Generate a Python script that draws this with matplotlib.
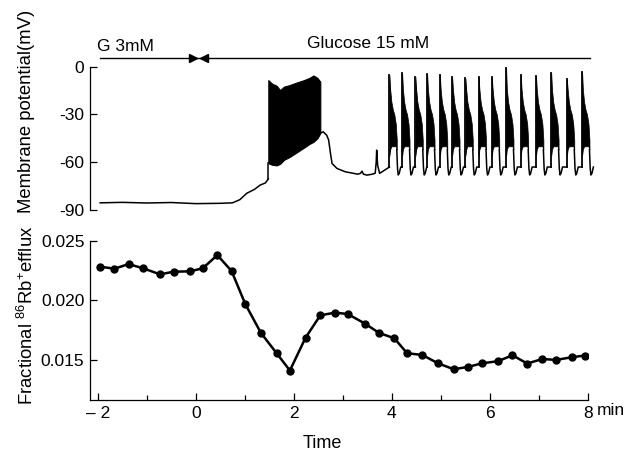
import numpy as np
import matplotlib.pyplot as plt
from matplotlib.transforms import blended_transform_factory

plt.rcParams['font.family'] = ['Liberation Sans', 'DejaVu Sans']
plt.rcParams['axes.unicode_minus'] = False

#%%
#------ Datos: flujo de 86Rb -------
t_rb = [-1.95, -1.66, -1.37, -1.07, -0.73, -0.45, -0.12, 0.14, 0.44, 0.73,
        1.01, 1.33, 1.65, 1.92, 2.24, 2.54, 2.84, 3.10, 3.45, 3.74,
        4.05, 4.31, 4.62, 4.94, 5.26, 5.56, 5.84, 6.16, 6.46, 6.76,
        7.07, 7.35, 7.67, 7.94]
rb_efflux = [0.02282, 0.02265, 0.02304, 0.02268, 0.02218, 0.0224, 0.02243, 0.02268, 0.02379, 0.02246,
             0.01969, 0.01726, 0.01556, 0.01411, 0.01687, 0.01874, 0.01897, 0.01885, 0.01805, 0.01726,
             0.01682, 0.01556, 0.01542, 0.01472, 0.01422, 0.01442, 0.01472, 0.01489, 0.01539, 0.0147,
             0.01508, 0.015, 0.01523, 0.01537]

#------ Datos: potencial de membrana -------
t_slow = [-1.95, -1.5, -1.0, -0.5, 0.0, 0.5, 0.75, 0.9, 1.04, 1.2, 1.31, 1.42, 1.48]
v_slow = [-85.5, -85.2, -85.6, -85.3, -86.0, -85.8, -85.5, -83.5, -79.5, -77.0, -74.4, -73.0, -70.5]

t_plat   = [1.48, 1.55, 1.65, 1.72, 1.80, 1.92, 2.05, 2.20, 2.32, 2.40, 2.48, 2.54]
plat_top = [-8.4, -10.5, -12.0, -14.7, -12.5, -11.5, -10.0, -8.5, -7.0, -5.5, -7.0, -9.4]
plat_bot = [-60.6, -61.5, -62.0, -61.0, -58.5, -56.6, -54.0, -51.0, -48.5, -47.2, -45.0, -41.7]

t_post = [2.54, 2.60, 2.67, 2.71, 2.75, 2.78, 2.88, 3.05, 3.22, 3.30, 3.36, 3.39, 3.42,
          3.49, 3.60, 3.66, 3.68, 3.69, 3.71, 3.75, 3.85, 3.95]
v_post = [-41.7, -40.9, -43.0, -46.0, -55.0, -60.8, -63.9, -66.0, -67.0, -67.5, -67.0, -65.6, -67.5,
          -68.1, -67.5, -66.9, -60.0, -52.4, -62.0, -67.0, -65.0, -63.0]

burst_t    = [3.95, 4.21, 4.48, 4.72, 4.98, 5.23, 5.50, 5.77, 6.04, 6.33, 6.63, 6.94, 7.25, 7.57, 7.88]
burst_peak = [-5.2, -4.2, -6.3, -4.6, -5.2, -6.7, -7.3, -6.7, -6.7, -1.0, -5.2, -5.9, -3.8, -7.9, -3.2]

# forma de cada rafaga (relativa al inicio)
act_dt  = [0.0, 0.015, 0.04, 0.07, 0.10, 0.13, 0.15]
act_top = [None, -14.0, -22.0, -27.0, -30.0, -36.0, -46.0]
act_bot = [-56.0, -52.0, -50.0, -50.0, -50.0, -50.0, -52.0]
rec_dt  = [0.15, 0.165, 0.18, 0.20, 0.23]
rec_v   = [-52.0, -64.0, -68.0, -67.0, -63.0]

#%%
#------ Figura -------
fig = plt.figure(figsize=(6.24, 4.51), dpi=100)
W, H = 624.0, 451.0
xlim = (-2.157, 8.0)

ax1 = fig.add_axes([90 / W, 1 - 210 / H, 498 / W, 143.3 / H])
ax2 = fig.add_axes([90 / W, 1 - 400 / H, 498 / W, 159.3 / H])

lw_tr = 1.1
ax1.plot(t_slow, v_slow, color='k', lw=lw_tr, clip_on=False)
ax1.plot([t_slow[-1], t_plat[0]], [v_slow[-1], plat_bot[0]], color='k', lw=lw_tr)
ax1.fill_between(t_plat, plat_bot, plat_top, color='k', lw=0.8, clip_on=False)
ax1.plot(t_post, v_post, color='k', lw=lw_tr, clip_on=False)

for i in range(len(burst_t)):
    t0 = burst_t[i]
    pk = burst_peak[i]
    top = [pk] + act_top[1:]
    ta = [t0 + d for d in act_dt]
    ax1.plot([t0, t0], [-63, pk], color='k', lw=1.3, clip_on=False)
    ax1.fill_between(ta, act_bot, top, color='k', lw=0.5, clip_on=False)
    tr = [t0 + d for d in rec_dt]
    vr = list(rec_v)
    if i + 1 < len(burst_t):
        tr.append(burst_t[i + 1])
        vr.append(-63)
    ax1.plot(tr, vr, color='k', lw=lw_tr, clip_on=False)

# barra de glucosa
ax1.plot([-1.95, 8.05], [5.5, 5.5], color='k', lw=1.0, clip_on=False)
ax1.plot([-0.06], [5.5], marker='>', color='k', ms=6, clip_on=False)
ax1.plot([0.16], [5.5], marker='<', color='k', ms=6, clip_on=False)
ax1.text(-2.01, 13, 'G 3mM', fontsize=12.5, ha='left', va='center')
ax1.text(2.26, 14.3, 'Glucose 15 mM', fontsize=12.5, ha='left', va='center')

ax1.set_xlim(xlim)
ax1.set_ylim(-90, 0)
ax1.set_yticks([0, -30, -60, -90])
ax1.set_yticklabels(['0', '-30', '-60', '-90'])
ax1.set_xticks([])
for s in ['top', 'right', 'bottom']:
    ax1.spines[s].set_visible(False)
ax1.spines['left'].set_linewidth(0.9)
ax1.tick_params(axis='y', direction='in', length=5, width=0.9, labelsize=12.5, pad=4)

# panel inferior
ax2.plot(t_rb, rb_efflux, color='k', lw=1.8, marker='o', ms=5)
ax2.set_xlim(xlim)
ax2.set_ylim(0.01164, 0.025)
ax2.set_yticks([0.015, 0.020, 0.025])
ax2.set_yticklabels(['0.015', '0.020', '0.025'])
ax2.set_xticks([-2, 0, 2, 4, 6, 8])
ax2.set_xticklabels(['\u2013 2', '0', '2', '4', '6', '8'])
ax2.set_xticks([-1, 1, 3, 5, 7], minor=True)
for s in ['top', 'right']:
    ax2.spines[s].set_visible(False)
ax2.spines['left'].set_linewidth(0.9)
ax2.spines['bottom'].set_linewidth(0.9)
ax2.tick_params(axis='both', which='major', direction='in', length=5, width=0.9, labelsize=12.5, pad=4)
ax2.tick_params(axis='x', which='minor', direction='in', length=3.5, width=0.9)
ax2.text(8.18, -0.018, 'min', transform=blended_transform_factory(ax2.transData, ax2.transAxes),
         fontsize=12.5, ha='left', va='top')

fig.text(27 / W, 1 - 111.5 / H, 'Membrane potential(mV)', rotation=90, fontsize=13.3,
         ha='center', va='center')
fig.text(27 / W, 1 - 315 / H, r'Fractional $\mathregular{^{86}Rb^{+}}$efflux', rotation=90,
         fontsize=13.3, ha='center', va='center')
fig.text(322 / W, 1 - 443 / H, 'Time', fontsize=13, ha='center', va='center')

fig.savefig('out.png', dpi=100)
